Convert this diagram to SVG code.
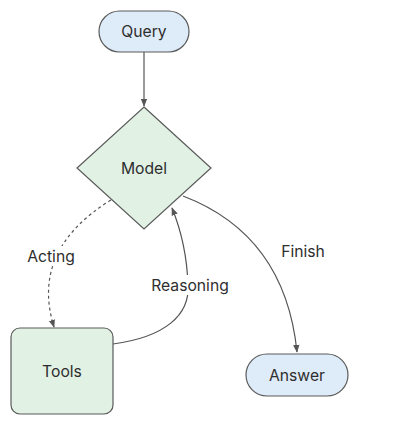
<svg xmlns="http://www.w3.org/2000/svg" width="410" height="438" viewBox="0 0 410 438">
<defs>
<style>
.blue{fill:#deebf8;stroke:#5a5a5a;stroke-width:1.2}
.green{fill:#e1f1e4;stroke:#5a5a5a;stroke-width:1.2}
.t{font-family:Inter,"Noto Sans",sans-serif;font-size:15.7px;fill:#2e2e2e;text-anchor:middle;dominant-baseline:central}
.e{fill:none;stroke:#555;stroke-width:1.2}
.d{stroke-dasharray:3 3}
.lb{fill:#fff}
</style>
<marker id="ah" viewBox="0 0 10 10" refX="9" refY="5" markerWidth="8" markerHeight="8" markerUnits="userSpaceOnUse" orient="auto">
<path d="M0,1 L10,5 L0,9 z" fill="#555"/>
</marker>
</defs>
<rect width="410" height="438" fill="#fff"/>
<g id="connectors">
<path class="e" d="M144,52 L144,106" marker-end="url(#ah)"/>
<path class="e d" d="M111,200 Q30,250 54,327" marker-end="url(#ah)"/>
<path class="e" d="M113,344 C165,337 190,315 188,285 C187,255 181,230 172,208" marker-end="url(#ah)"/>
<path class="e" d="M183,196 Q285,235 297,352" marker-end="url(#ah)"/>
<rect class="lb" x="25" y="246" width="52" height="20"/>
<rect class="lb" x="150" y="275" width="80" height="20"/>
<text class="t" x="51" y="256">Acting</text>
<text class="t" x="190" y="285">Reasoning</text>
<text class="t" x="303" y="251">Finish</text>
</g>
<g id="query">
<rect class="blue" x="99" y="11" width="90" height="41" rx="20.5"/>
<text class="t" x="144" y="31.5">Query</text>
</g>
<g id="model">
<polygon class="green" points="144,107 211,168 144,229 77,168"/>
<text class="t" x="144" y="168">Model</text>
</g>
<g id="tools">
<rect class="green" x="11" y="328" width="102" height="86" rx="9"/>
<text class="t" x="62" y="371">Tools</text>
</g>
<g id="answer">
<rect class="blue" x="246" y="354" width="102" height="42" rx="21"/>
<text class="t" x="297" y="375">Answer</text>
</g>
</svg>
